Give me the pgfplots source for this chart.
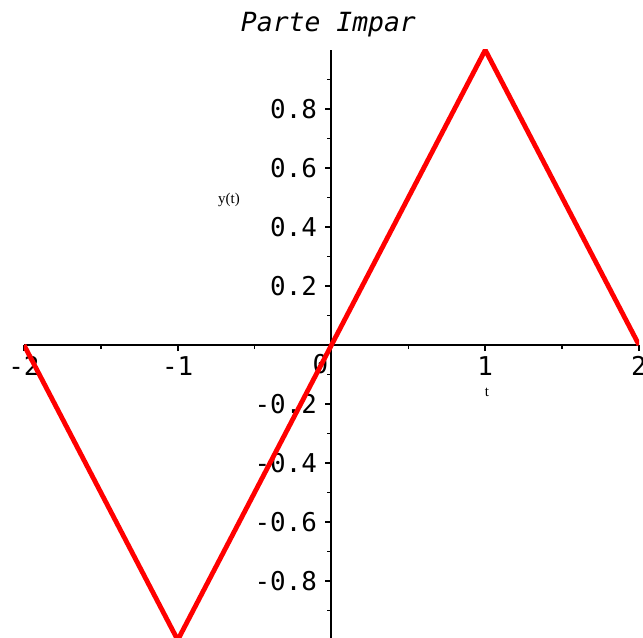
\documentclass[border=0pt]{standalone}
\usepackage{fontspec}
\setmainfont{Liberation Serif}
\setmonofont{DejaVu Sans Mono}
\usepackage{pgfplots}
\pgfplotsset{compat=1.18}
\begin{document}
\begin{tikzpicture}
\begin{axis}[
  scale only axis,
  width=615bp, height=590bp,
  xmin=-2, xmax=2, ymin=-1, ymax=1,
  axis lines=middle,
  axis line style={black, line width=2bp, -},
  xtick={-2,-1,1,2},
  ytick={-0.8,-0.6,-0.4,-0.2,0.2,0.4,0.6,0.8},
  minor xtick={-1.5,-0.5,0.5,1.5},
  minor ytick={-0.9,-0.7,-0.5,-0.3,-0.1,0.1,0.3,0.5,0.7,0.9},
  tick align=outside,
  major tick length=6bp, minor tick length=4bp,
  every tick/.style={black, line width=1.6bp},
  tick label style={font=\fontsize{26}{31}\selectfont\ttfamily},
  /pgf/number format/assume math mode=true,
  xticklabel style={anchor=north, yshift=-2bp},
  yticklabel style={anchor=east, xshift=-5bp},
  clip mode=individual,
]
\node[anchor=north east, font=\fontsize{26}{31}\selectfont\ttfamily, inner sep=0pt] at (axis cs:-0.02,-0.03) {0};
\addplot[red, line width=4.8bp] coordinates {(-2,0) (-1,-1) (1,1) (2,0)};
\node[font=\fontsize{26.5}{31}\selectfont\ttfamily\itshape, anchor=base] at (axis cs:-0.02,1.064) {Parte Impar};
\node[font=\fontsize{15}{18}\selectfont] at (axis cs:-0.667,0.4915) {y(t)};
\node[font=\fontsize{15}{18}\selectfont] at (axis cs:1.011,-0.159) {t};
\coordinate (bl) at (axis cs:-2.156,-0.993);
\coordinate (tr) at (axis cs:2.026,1.1695);
\end{axis}
\pgfresetboundingbox
\path (bl) rectangle (tr);
\end{tikzpicture}
\end{document}
